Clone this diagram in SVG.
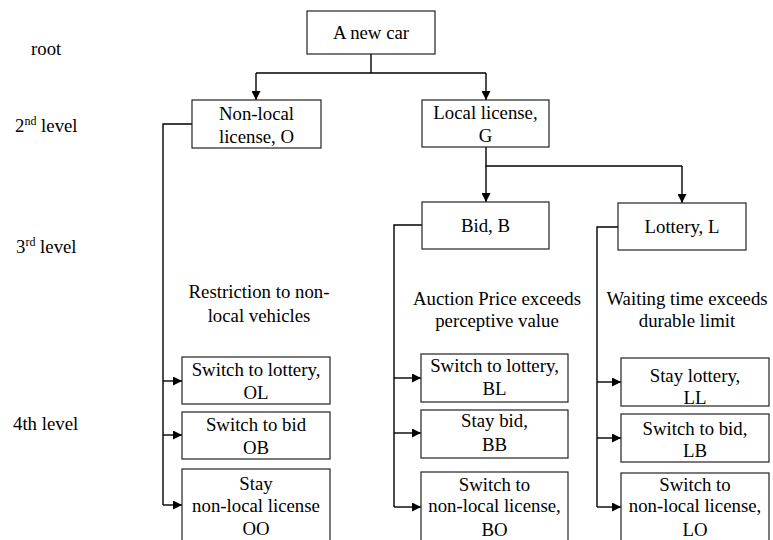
<svg xmlns="http://www.w3.org/2000/svg" width="773" height="540" viewBox="0 0 773 540">
<defs>
<marker id="ah" viewBox="0 0 10 10" refX="10" refY="5" markerWidth="9" markerHeight="9" markerUnits="userSpaceOnUse" orient="auto"><path d="M0,0 L10,5 L0,10 Z" fill="#000"/></marker>
</defs>
<style>
.c{text-anchor:middle}
rect{fill:#fff;stroke:#222;stroke-width:1.2}
.ln{fill:none;stroke:#000;stroke-width:1.4}
.ar{marker-end:url(#ah)}
</style>
<rect x="0" y="0" width="773" height="540" style="fill:#fff;stroke:none"/>
<g font-family="'Liberation Serif', 'Times New Roman', serif" font-size="18.8" fill="#000">
<g id="labels">
<text x="31" y="55">root</text>
<text x="15" y="132">2<tspan font-size="12" dy="-7">nd</tspan><tspan dy="7"> level</tspan></text>
<text x="16" y="253">3<tspan font-size="12" dy="-7">rd</tspan><tspan dy="7"> level</tspan></text>
<text x="13" y="430">4th level</text>
</g>
<g id="connectors">
<path class="ln" d="M371,54 V73 M256,73 H486"/>
<path class="ln ar" d="M256,73 V100"/>
<path class="ln ar" d="M486,73 V100"/>
<path class="ln" d="M486,147 V166 H682"/>
<path class="ln ar" d="M486,166 V202"/>
<path class="ln ar" d="M682,166 V203"/>
<path class="ln" d="M192,124 H163 V505"/>
<path class="ln ar" d="M163,381 H182"/>
<path class="ln ar" d="M163,435 H182"/>
<path class="ln ar" d="M163,505 H182"/>
<path class="ln" d="M422,225 H394 V507"/>
<path class="ln ar" d="M394,378 H421"/>
<path class="ln ar" d="M394,433 H421"/>
<path class="ln ar" d="M394,507 H421"/>
<path class="ln" d="M618,227 H597 V507"/>
<path class="ln ar" d="M597,382 H621"/>
<path class="ln ar" d="M597,438 H621"/>
<path class="ln ar" d="M597,507 H621"/>
</g>
<g id="root"><rect x="307" y="11" width="128" height="43"/><text class="c" x="371" y="39">A new car</text></g>
<g id="nonlocal"><rect x="192" y="100" width="129" height="48"/><text class="c" x="256.5" y="120">Non-local</text><text class="c" x="256.5" y="143">license, O</text></g>
<g id="local"><rect x="422" y="100" width="127" height="47"/><text class="c" x="485.5" y="119">Local license,</text><text class="c" x="485.5" y="142">G</text></g>
<g id="bid"><rect x="422" y="202" width="127" height="47"/><text class="c" x="485.5" y="232">Bid, B</text></g>
<g id="lottery"><rect x="618" y="203" width="128" height="47"/><text class="c" x="682" y="233">Lottery, L</text></g>
<g id="cond-o"><text class="c" x="259" y="298">Restriction to non-</text><text class="c" x="259" y="322">local vehicles</text></g>
<g id="cond-b"><text class="c" x="497" y="305">Auction Price exceeds</text><text class="c" x="497" y="327">perceptive value</text></g>
<g id="cond-l"><text class="c" x="687" y="305">Waiting time exceeds</text><text class="c" x="687" y="327">durable limit</text></g>
<g id="OL"><rect x="182" y="357" width="148" height="47"/><text class="c" x="256" y="376">Switch to lottery,</text><text class="c" x="256" y="399">OL</text></g>
<g id="OB"><rect x="182" y="412" width="148" height="47"/><text class="c" x="256" y="431">Switch to bid</text><text class="c" x="256" y="454">OB</text></g>
<g id="OO"><rect x="182" y="469" width="148" height="80"/><text class="c" x="256" y="490">Stay</text><text class="c" x="256" y="512">non-local license</text><text class="c" x="256" y="535">OO</text></g>
<g id="BL"><rect x="421" y="354" width="147" height="48"/><text class="c" x="494.5" y="372">Switch to lottery,</text><text class="c" x="494.5" y="395">BL</text></g>
<g id="BB"><rect x="421" y="410" width="147" height="48"/><text class="c" x="494.5" y="427">Stay bid,</text><text class="c" x="494.5" y="451">BB</text></g>
<g id="BO"><rect x="421" y="472" width="147" height="80"/><text class="c" x="494.5" y="491">Switch to</text><text class="c" x="494.5" y="512">non-local license,</text><text class="c" x="494.5" y="536">BO</text></g>
<g id="LL"><rect x="621" y="358" width="148" height="48"/><text class="c" x="695" y="382">Stay lottery,</text><text class="c" x="695" y="404">LL</text></g>
<g id="LB"><rect x="621" y="414" width="148" height="48"/><text class="c" x="695" y="435">Switch to bid,</text><text class="c" x="695" y="457">LB</text></g>
<g id="LO"><rect x="621" y="473" width="148" height="80"/><text class="c" x="695" y="491">Switch to</text><text class="c" x="695" y="512">non-local license,</text><text class="c" x="695" y="536">LO</text></g>
</g>
</svg>
